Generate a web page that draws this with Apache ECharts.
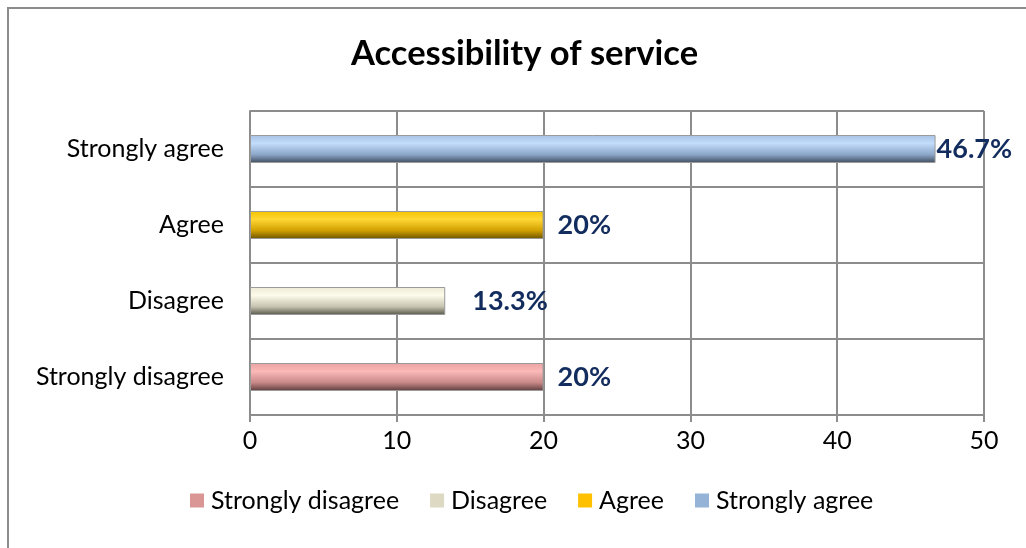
<!DOCTYPE html>
<html>
<head>
<meta charset="utf-8">
<script src="https://cdn.jsdelivr.net/npm/echarts@6/dist/echarts.min.js"></script>
<style>
  html, body { margin: 0; padding: 0; background: #fff; }
  #chart { width: 1026px; height: 548px; }
</style>
</head>
<body>
<div id="chart"></div>
<script>
// categories bottom -> top
var categories = ['Strongly disagree', 'Disagree', 'Agree', 'Strongly agree']
var values = [20, 13.3, 20, 46.7]
var xTicks = [0, 10, 20, 30, 40, 50]

var legendColors = ['#D99694', '#DDD9C3', '#FFC000', '#95B3D7']
var barStops = [
  ['#e9a3a2', '#fbb9b8', '#c88887', '#5b3c3b'],
  ['#eeecd8', '#fdfbe9', '#c6c4b0', '#555548'],
  ['#f5c400', '#ffd634', '#d0a000', '#6b5200'],
  ['#a6c2e6', '#c3dcfb', '#8ba6c8', '#3f4b5d']
]
var labelOffsets = [[9, 0], [22, 0], [9, 0], [-4, 0]]

var font = 'Lato, "Open Sans", sans-serif'
var chart = echarts.init(document.getElementById('chart'))

var series = categories.map(function (name, i) {
  var data = categories.map(function (c, j) { return j === i ? values[i] : '-' })
  var s = barStops[i]
  return {
    name: name,
    type: 'bar',
    stack: 'all',
    barWidth: 28,
    data: data,
    itemStyle: {
      color: {
        type: 'linear', x: 0, y: 0, x2: 0, y2: 1,
        colorStops: [
          { offset: 0, color: s[0] },
          { offset: 0.3, color: s[1] },
          { offset: 0.7, color: s[2] },
          { offset: 1, color: s[3] }
        ]
      },
      borderColor: '#9a9a9a',
      borderWidth: 1
    },
    label: {
      show: true,
      position: 'right',
      offset: labelOffsets[i],
      formatter: function (p) { return p.value + '%' },
      fontFamily: font,
      fontWeight: 'bold',
      fontSize: 27,
      color: '#132c5e'
    }
  }
})

chart.setOption({
  animation: false,
  title: {
    text: 'Accessibility of service',
    left: 346,
    top: 31,
    textStyle: { fontFamily: font, fontWeight: 'bold', fontSize: 34.5, color: '#000' }
  },
  graphic: [{
    type: 'rect',
    shape: { x: 8, y: 8, width: 1040, height: 560 },
    style: { fill: 'none', stroke: '#8c8c8c', lineWidth: 2 },
    silent: true
  }],
  legend: {
    bottom: 30,
    left: 185,
    icon: 'rect',
    itemWidth: 14,
    itemHeight: 14,
    itemGap: 31,
    textStyle: { fontFamily: font, fontSize: 25, color: '#000', padding: [0, 0, 0, 2] },
    data: categories.map(function (c, i) {
      return { name: c, itemStyle: { color: legendColors[i], borderWidth: 0 } }
    })
  },
  grid: { left: 250, right: 42, top: 111, bottom: 133 },
  xAxis: {
    type: 'value',
    min: xTicks[0],
    max: xTicks[xTicks.length - 1],
    interval: 10,
    axisLine: { show: true, lineStyle: { color: '#8c8c8c', width: 2 } },
    axisTick: { show: true, length: 7, lineStyle: { color: '#8c8c8c', width: 2 } },
    axisLabel: { fontFamily: font, fontSize: 25, color: '#000', margin: 13 },
    splitLine: { show: true, lineStyle: { color: '#8c8c8c', width: 2 } }
  },
  yAxis: {
    type: 'category',
    data: categories,
    axisLine: { show: true, lineStyle: { color: '#8c8c8c', width: 2 } },
    axisTick: { show: false },
    axisLabel: { fontFamily: font, fontSize: 25, color: '#000', margin: 26 },
    splitLine: { show: true, lineStyle: { color: '#8c8c8c', width: 2 } }
  },
  series: series
})
</script>
</body>
</html>
